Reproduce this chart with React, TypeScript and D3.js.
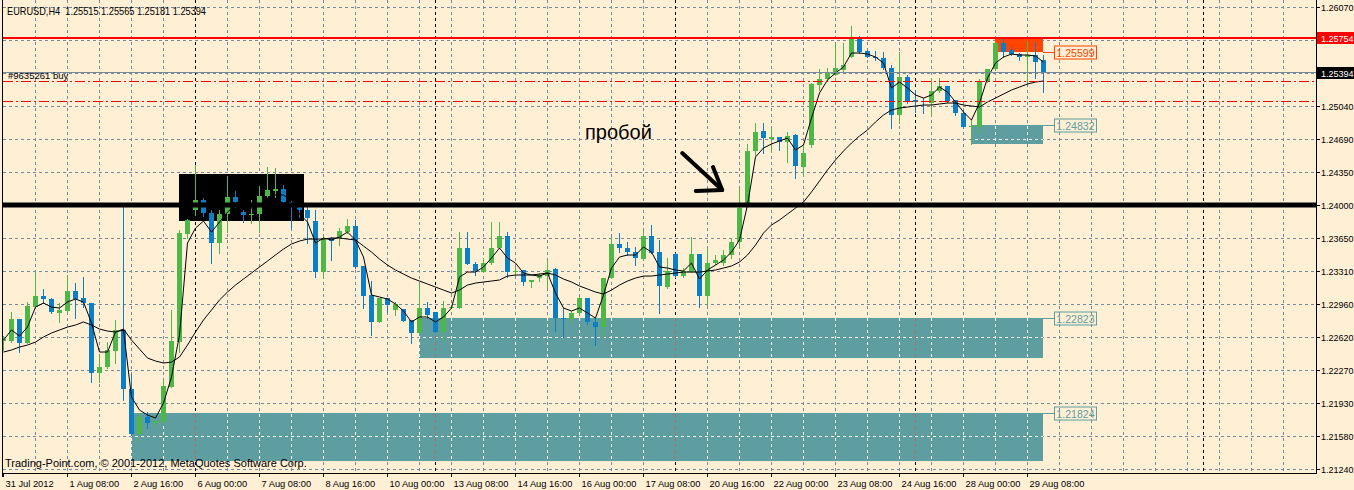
import React from "react";
import * as d3 from "d3";

// ---------------- DATA ----------------
const headerText = "EURUSD,H4  1.25515 1.25565 1.25181 1.25394";
const orderText = "#9635261 buy";
const copyrightText = "Trading-Point.com, © 2001-2012, MetaQuotes Software Corp.";
const annotationText = "пробой";

const timeLabels = [
  "31 Jul 2012", "1 Aug 08:00", "2 Aug 16:00", "6 Aug 00:00", "7 Aug 08:00", "8 Aug 16:00",
  "10 Aug 00:00", "13 Aug 08:00", "14 Aug 16:00", "16 Aug 00:00", "17 Aug 08:00", "20 Aug 16:00",
  "22 Aug 00:00", "23 Aug 08:00", "24 Aug 16:00", "28 Aug 00:00", "29 Aug 08:00",
];
const barsPerTimeLabel = 8;
const gridEveryBars = 4;
const weekSeparatorBars = [24, 54, 84, 114, 150];

const priceTicks = [1.2607, 1.25725, 1.2538, 1.2504, 1.2469, 1.2435, 1.24, 1.2365, 1.2331, 1.2296, 1.2262, 1.2227, 1.2193, 1.2158, 1.2124];
const priceTickLabels = ["1.26070", "1.25720", "1.25380", "1.25040", "1.24690", "1.24350", "1.24000", "1.23650", "1.23310", "1.22960", "1.22620", "1.22270", "1.21930", "1.21580", "1.21240"];

const opens = [1.22578,1.22578,1.22808,1.22557,1.22933,1.23048,1.23017,1.22871,1.22892,1.23101,1.23027,1.22975,1.22243,1.22306,1.22473,1.22693,1.22076,1.21606,1.21783,1.21721,1.21731,1.22097,1.22567,1.23697,1.23947,1.24052,1.23916,1.23602,1.23906,1.24083,1.23926,1.23895,1.23906,1.24094,1.24146,1.24167,1.24031,1.23979,1.23947,1.23832,1.23299,1.23655,1.23655,1.23717,1.2378,1.23362,1.23059,1.22777,1.23027,1.22902,1.22912,1.22798,1.22662,1.22923,1.22881,1.22672,1.22923,1.22923,1.2355,1.23383,1.23299,1.23393,1.2355,1.23676,1.23299,1.2332,1.23195,1.23236,1.23257,1.23331,1.22818,1.22808,1.22871,1.23027,1.22777,1.22724,1.23236,1.23592,1.2355,1.23508,1.23435,1.23676,1.23508,1.23142,1.23487,1.23257,1.23299,1.23487,1.23048,1.23393,1.23393,1.23477,1.23613,1.24021,1.24564,1.24773,1.2469,1.24711,1.24658,1.24732,1.24397,1.24627,1.25254,1.25317,1.25359,1.25411,1.25547,1.25735,1.2561,1.25547,1.25537,1.25432,1.24941,1.25338,1.25098,1.25087,1.25066,1.25192,1.25244,1.25098,1.24962,1.24815,1.24815,1.25296,1.25422,1.25693,1.2562,1.25578,1.25547,1.25568,1.25515];
const highs = [1.2263,1.22881,1.22808,1.22986,1.23289,1.23122,1.23027,1.22975,1.23268,1.23184,1.23247,1.22975,1.22432,1.22567,1.22797,1.23989,1.22233,1.21825,1.21835,1.21752,1.2217,1.22902,1.23738,1.23853,1.24418,1.24073,1.23947,1.23947,1.24303,1.24146,1.23947,1.24052,1.24198,1.24397,1.24387,1.24209,1.24052,1.24,1.24,1.23947,1.23676,1.23665,1.23759,1.23853,1.23843,1.23362,1.23205,1.23027,1.23027,1.22986,1.22912,1.22798,1.23174,1.22986,1.22881,1.22996,1.22954,1.23717,1.23717,1.23404,1.23446,1.23822,1.23822,1.23717,1.23352,1.2332,1.23216,1.23289,1.23425,1.23341,1.22923,1.22892,1.23038,1.23027,1.22818,1.23236,1.23665,1.23707,1.23613,1.23561,1.23738,1.23791,1.23634,1.23446,1.23498,1.23341,1.23665,1.23487,1.2355,1.23477,1.23529,1.23655,1.24178,1.24638,1.24857,1.24857,1.24805,1.24711,1.24762,1.24742,1.24638,1.25275,1.25422,1.25432,1.25693,1.25693,1.25871,1.25767,1.2562,1.2561,1.25599,1.25463,1.25599,1.25359,1.25202,1.25118,1.25327,1.25327,1.25244,1.25098,1.24993,1.24888,1.25317,1.25422,1.25704,1.25735,1.25652,1.25589,1.25714,1.25704,1.25565];
const lows = [1.22484,1.22567,1.22463,1.22557,1.22933,1.22975,1.22871,1.22777,1.22881,1.22818,1.22933,1.22149,1.22149,1.22296,1.22348,1.21961,1.21595,1.21532,1.21668,1.21679,1.21721,1.22097,1.22463,1.23655,1.23895,1.23885,1.23393,1.23498,1.23717,1.23979,1.23822,1.23811,1.23717,1.24083,1.24083,1.24021,1.23759,1.23874,1.23602,1.23247,1.23236,1.23425,1.23581,1.23707,1.23341,1.22923,1.22641,1.22777,1.22881,1.2285,1.22787,1.22557,1.22662,1.22818,1.22672,1.22588,1.22923,1.22923,1.23383,1.23268,1.23299,1.23383,1.2355,1.23247,1.23268,1.23163,1.23142,1.23205,1.23142,1.22682,1.2262,1.22777,1.2285,1.22756,1.22536,1.2262,1.23236,1.23508,1.23477,1.23372,1.23425,1.23498,1.22871,1.23132,1.23247,1.23247,1.23299,1.22933,1.22954,1.23383,1.23372,1.23446,1.2355,1.24,1.24523,1.24543,1.24554,1.24575,1.24449,1.24282,1.24313,1.24606,1.25202,1.25307,1.25359,1.2539,1.25547,1.25589,1.25547,1.25516,1.25422,1.24805,1.24857,1.25066,1.24972,1.24962,1.24941,1.25181,1.25077,1.24941,1.24805,1.24638,1.24752,1.25286,1.25411,1.25547,1.25568,1.25516,1.25275,1.25327,1.25181];
const closes = [1.22599,1.22808,1.22557,1.22944,1.23048,1.23017,1.22881,1.22902,1.23101,1.23017,1.22975,1.22243,1.22306,1.22484,1.22693,1.22076,1.21606,1.21783,1.21721,1.21741,1.22107,1.22578,1.23707,1.23843,1.24052,1.23916,1.23602,1.23906,1.24083,1.24031,1.23895,1.23906,1.24094,1.24157,1.24167,1.24031,1.23979,1.23947,1.23864,1.23299,1.23655,1.23623,1.23728,1.2378,1.23352,1.23048,1.22777,1.23027,1.22954,1.22965,1.22787,1.22662,1.22923,1.2285,1.22672,1.22923,1.22933,1.2355,1.23383,1.2331,1.23393,1.2355,1.23676,1.23299,1.2331,1.23195,1.23216,1.23268,1.2332,1.22818,1.22808,1.22871,1.23027,1.22777,1.22724,1.23236,1.23592,1.2355,1.23508,1.23446,1.23676,1.23498,1.23153,1.2331,1.23257,1.2331,1.23487,1.23048,1.23393,1.23425,1.23477,1.23613,1.23968,1.24564,1.24762,1.247,1.24711,1.24658,1.24721,1.24407,1.24543,1.25265,1.25317,1.2538,1.25432,1.25463,1.25735,1.25599,1.25547,1.25537,1.25432,1.24941,1.25338,1.25077,1.25077,1.25077,1.25192,1.25244,1.25087,1.24962,1.24815,1.24826,1.25296,1.25422,1.25693,1.25599,1.25578,1.25547,1.25568,1.25495,1.25394];

const fastMA = [1.22588,1.22693,1.2263,1.22724,1.22933,1.22975,1.22933,1.22923,1.22986,1.23017,1.22986,1.22766,1.22463,1.22463,1.22672,1.22693,1.21992,1.21856,1.21804,1.21773,1.2193,1.22202,1.22641,1.23602,1.23759,1.23832,1.23717,1.23822,1.23926,1.24,1.23968,1.23968,1.24,1.24073,1.24104,1.24104,1.24052,1.23906,1.23822,1.23602,1.23655,1.23634,1.23665,1.23717,1.23634,1.23456,1.23059,1.23038,1.23017,1.22965,1.22892,1.22777,1.22829,1.22829,1.22777,1.22829,1.22923,1.23247,1.23299,1.23299,1.23352,1.23446,1.2355,1.23446,1.23393,1.23289,1.23268,1.23257,1.23289,1.2308,1.22923,1.22892,1.22923,1.22871,1.22818,1.23059,1.23341,1.23456,1.23477,1.23477,1.23561,1.23508,1.23352,1.23341,1.2332,1.2331,1.23393,1.23226,1.2332,1.23372,1.23425,1.23508,1.23634,1.24,1.24502,1.24596,1.24638,1.24669,1.247,1.24575,1.24627,1.24909,1.25171,1.25307,1.2538,1.25443,1.25589,1.25589,1.25578,1.25547,1.25484,1.25223,1.25286,1.25223,1.2515,1.25118,1.2515,1.25233,1.25181,1.25077,1.24972,1.24888,1.25066,1.25327,1.25484,1.25547,1.25578,1.25568,1.25568,1.25558,1.25495];
const slowMA = [1.22463,1.22484,1.22515,1.22536,1.22567,1.2262,1.22662,1.22693,1.22724,1.22745,1.22777,1.22745,1.22703,1.22682,1.22672,1.22703,1.22588,1.22494,1.224,1.22369,1.22348,1.22358,1.22411,1.22536,1.22672,1.22798,1.22902,1.23007,1.2309,1.23163,1.23226,1.23289,1.23352,1.23414,1.23477,1.2354,1.23592,1.23623,1.23644,1.23644,1.23644,1.23655,1.23655,1.23644,1.23634,1.23571,1.23508,1.23435,1.23372,1.2332,1.23278,1.23236,1.23205,1.23174,1.23142,1.23111,1.2308,1.23111,1.23163,1.23184,1.23195,1.23205,1.23216,1.23257,1.23268,1.23268,1.23268,1.23278,1.23289,1.23268,1.23226,1.23195,1.23153,1.23122,1.2309,1.23069,1.23111,1.23163,1.23205,1.23236,1.23257,1.23257,1.23268,1.23278,1.23289,1.23299,1.23299,1.23299,1.2331,1.2332,1.23341,1.23362,1.23404,1.23477,1.23581,1.23707,1.23791,1.23843,1.23906,1.23968,1.24031,1.24136,1.24251,1.24366,1.24471,1.24564,1.24648,1.24721,1.24784,1.24868,1.24941,1.24993,1.25014,1.25024,1.25035,1.25045,1.25045,1.25056,1.25066,1.25066,1.25045,1.25035,1.25024,1.25077,1.25118,1.2516,1.25202,1.25233,1.25265,1.25286,1.25296];

// zones (rectangles) : bar range + price range
const zoneFromBar = [16, 52, 121, 124];
const zoneToBar = [130, 130, 130, 130];
const zoneTop = [1.21824, 1.22823, 1.24832, 1.25754];
const zoneBottom = [1.2132, 1.224, 1.24638, 1.25599];
const zoneLevel = [1.21824, 1.22823, 1.24832, 1.25599];
const zoneColors = ["#5F9EA0", "#5F9EA0", "#5F9EA0", "#FF4500"];

const blackBoxBars = [22, 37.6];
const blackBoxPrices = [1.24324, 1.23832];

const redLevel = 1.25754;
const breakoutLevel = 1.24;
const bidPrice = 1.25394;
const orderLevels = [1.253, 1.2509];

// arrow (bar, price) points: tail, tip, head ends
const arrowBars = [84.9, 89.9, 88.75, 86.6];
const arrowPrices = [1.24543, 1.24157, 1.24397, 1.24146];
const annotationBar = 72.75;
const annotationPrice = 1.2469;

// ---------------- CHART ----------------
const W = 1354;
const H = 490;
const FONT = "'Liberation Sans', Arial, sans-serif";
const BG = "#FFEFD5";
const GRID = "#778899";
const BULL = "#4DB848";
const BEAR = "#0C7EC3";

export default function App() {
  const plotRight = 1316;
  const axisY = 473;
  const x = d3.scaleLinear().domain([0, 164]).range([3, 1315]);
  const y = d3.scaleLinear().domain([1.2124, 1.2607]).range([469, 7]);
  const ry = (v: number) => Math.round(y(v));
  const fmt = d3.format(".5f");

  const nBars = closes.length;
  const vGridBars: number[] = d3.range(gridEveryBars, 164, gridEveryBars).filter((b) => x(b) < plotRight - 2);

  const lineGen = d3
    .line<number>()
    .x((_, i) => x(i) + 0.5)
    .y((d) => y(d));

  const zoneIdx = d3.range(zoneTop.length);
  const tealIdx = zoneIdx.filter((i) => zoneColors[i] === "#5F9EA0");

  const hGrid = priceTicks.map((v) => ry(v) + 0.5);
  const arrowPts = arrowBars.map((b, i) => [x(b), y(arrowPrices[i])]);

  const axisFont = 9;
  const labelX = plotRight + 5;

  return (
    <div style={{ position: "absolute", left: 0, top: 0 }}>
      <svg width={W} height={H} style={{ display: "block", background: BG }}>
        <defs>
          <clipPath id="tealClip">
            {tealIdx.map((i) => (
              <rect key={i} x={Math.round(x(zoneFromBar[i]))} y={ry(zoneTop[i])} width={Math.round(x(zoneToBar[i])) - Math.round(x(zoneFromBar[i]))} height={ry(zoneBottom[i]) - ry(zoneTop[i])} />
            ))}
          </clipPath>
          <clipPath id="plotClip">
            <rect x={2} y={0} width={plotRight - 2} height={axisY} />
          </clipPath>
        </defs>
        <rect x={0} y={0} width={W} height={H} fill={BG} />

        <g clipPath="url(#plotClip)">
          {/* grid */}
          {hGrid.map((gy, i) => (
            <line key={"h" + i} x1={3} x2={plotRight} y1={gy} y2={gy} stroke={GRID} strokeDasharray="3,3" />
          ))}
          {vGridBars.map((b) => (
            <line key={"v" + b} x1={Math.round(x(b)) + 0.5} x2={Math.round(x(b)) + 0.5} y1={0} y2={axisY} stroke={GRID} strokeDasharray="3,3" />
          ))}
          {weekSeparatorBars.map((b) => (
            <line key={"s" + b} x1={Math.round(x(b)) + 0.5} x2={Math.round(x(b)) + 0.5} y1={0} y2={axisY} stroke="#000" strokeDasharray="3,3" />
          ))}

          {/* zones */}
          {zoneIdx.map((i) => (
            <rect key={"z" + i} x={Math.round(x(zoneFromBar[i]))} y={ry(zoneTop[i])} width={Math.round(x(zoneToBar[i])) - Math.round(x(zoneFromBar[i]))} height={ry(zoneBottom[i]) - ry(zoneTop[i])} fill={zoneColors[i]} />
          ))}
          <rect x={Math.round(x(blackBoxBars[0]))} y={ry(blackBoxPrices[0])} width={Math.round(x(blackBoxBars[1])) - Math.round(x(blackBoxBars[0]))} height={ry(blackBoxPrices[1]) - ry(blackBoxPrices[0])} fill="#000" />

          {/* grid seen through teal zones */}
          <g clipPath="url(#tealClip)">
            {hGrid.map((gy, i) => (
              <line key={"th" + i} x1={3} x2={plotRight} y1={gy} y2={gy} stroke="#FFFFFF" strokeDasharray="3,3" />
            ))}
            {vGridBars.map((b) => (
              <line key={"tv" + b} x1={Math.round(x(b)) + 0.5} x2={Math.round(x(b)) + 0.5} y1={0} y2={axisY} stroke="#FFFFFF" strokeDasharray="3,3" />
            ))}
            {weekSeparatorBars.map((b) => (
              <line key={"ts" + b} x1={Math.round(x(b)) + 0.5} x2={Math.round(x(b)) + 0.5} y1={0} y2={axisY} stroke="#B06A6A" strokeDasharray="3,3" />
            ))}
          </g>

          {/* candles */}
          {d3.range(nBars).map((i) => {
            const cx = Math.round(x(i));
            const up = closes[i] >= opens[i];
            const col = up ? BULL : BEAR;
            const top = ry(Math.max(opens[i], closes[i]));
            const bot = ry(Math.min(opens[i], closes[i]));
            return (
              <g key={"c" + i}>
                <line x1={cx + 0.5} x2={cx + 0.5} y1={ry(highs[i])} y2={ry(lows[i]) + 1} stroke={col} />
                <rect x={cx - 2} y={top} width={5} height={Math.max(1, bot - top)} fill={col} />
              </g>
            );
          })}

          {/* moving averages */}
          <path d={lineGen(slowMA) || ""} fill="none" stroke="#000" strokeWidth={1} />
          <path d={lineGen(fastMA) || ""} fill="none" stroke="#000" strokeWidth={1} />

          {/* horizontal levels */}
          <line x1={3} x2={plotRight} y1={ry(bidPrice) + 0.5} y2={ry(bidPrice) + 0.5} stroke="#778899" />
          {orderLevels.map((v, i) => (
            <line key={"o" + i} x1={3} x2={plotRight} y1={ry(v) + 0.5} y2={ry(v) + 0.5} stroke="#FF0000" strokeDasharray="10,3,2,3" />
          ))}
          <line x1={3} x2={plotRight} y1={ry(redLevel) + 1} y2={ry(redLevel) + 1} stroke="#FF0000" strokeWidth={2} />
          <line x1={3} x2={plotRight} y1={y(breakoutLevel)} y2={y(breakoutLevel)} stroke="#000" strokeWidth={5} />

          {/* arrow */}
          <g stroke="#000" strokeWidth={4} strokeLinecap="round" fill="none">
            <line x1={arrowPts[0][0]} y1={arrowPts[0][1]} x2={arrowPts[1][0]} y2={arrowPts[1][1]} />
            <line x1={arrowPts[1][0]} y1={arrowPts[1][1]} x2={arrowPts[2][0]} y2={arrowPts[2][1]} />
            <line x1={arrowPts[1][0]} y1={arrowPts[1][1]} x2={arrowPts[3][0]} y2={arrowPts[3][1]} />
          </g>
          <text x={x(annotationBar)} y={y(annotationPrice)} fontFamily={FONT} fontSize={20} fill="#000">
            {annotationText}
          </text>

          {/* texts */}
          <text x={7} y={15} fontFamily={FONT} fontSize={11} fill="#000" textLength={199} lengthAdjust="spacingAndGlyphs" style={{ whiteSpace: "pre" }}>{headerText}</text>
          <text x={8} y={79} fontFamily={FONT} fontSize={9.5} fill="#000">{orderText}</text>
          <text x={5} y={467} fontFamily={FONT} fontSize={11} fill="#000">{copyrightText}</text>
        </g>

        {/* zone labels */}
        {zoneIdx.map((i) => {
          const ly = ry(zoneLevel[i]) + 0.5;
          const x0 = Math.round(x(zoneToBar[i]));
          const bx = x0 + 11.5;
          return (
            <g key={"zl" + i}>
              <line x1={x0} x2={bx} y1={ly} y2={ly} stroke={zoneColors[i]} />
              <rect x={bx} y={ly - 6.5} width={42} height={13} fill="none" stroke={zoneColors[i]} />
              <text x={bx + 1.8} y={ly + 4} fontFamily={FONT} fontSize={10.6} fill={zoneColors[i]}>
                {fmt(zoneLevel[i])}
              </text>
            </g>
          );
        })}

        {/* axes */}
        <line x1={2.5} x2={2.5} y1={0} y2={axisY + 4} stroke="#000" />
        <line x1={plotRight + 0.5} x2={plotRight + 0.5} y1={0} y2={axisY} stroke="#000" />
        <line x1={2} x2={plotRight + 1} y1={axisY + 0.5} y2={axisY + 0.5} stroke="#000" />
        {priceTicks.map((v, i) => (
          <g key={"pt" + i}>
            <line x1={plotRight} x2={plotRight + 4} y1={ry(v) + 0.5} y2={ry(v) + 0.5} stroke="#000" />
            <text x={labelX} y={ry(v) + 4} fontFamily={FONT} fontSize={axisFont} fill="#000">{priceTickLabels[i]}</text>
          </g>
        ))}
        {timeLabels.map((t, i) => {
          const tx = Math.round(x(i * barsPerTimeLabel)) + 0.5;
          return (
            <g key={"tl" + i}>
              <line x1={tx} x2={tx} y1={axisY} y2={axisY + 4} stroke="#000" />
              <text x={tx + 2} y={487} fontFamily={FONT} fontSize={9.3} fill="#000">{t}</text>
            </g>
          );
        })}

        {/* price labels on axis */}
        <rect x={plotRight + 1} y={ry(redLevel) - 5} width={W - plotRight} height={12} fill="#FF0000" />
        <text x={labelX} y={ry(redLevel) + 5} fontFamily={FONT} fontSize={axisFont} fill="#FFFFFF">{fmt(redLevel)}</text>
        <rect x={plotRight + 1} y={ry(bidPrice) - 5} width={W - plotRight} height={12} fill="#000" />
        <text x={labelX} y={ry(bidPrice) + 5} fontFamily={FONT} fontSize={axisFont} fill="#FFFFFF">{fmt(bidPrice)}</text>
      </svg>
    </div>
  );
}
